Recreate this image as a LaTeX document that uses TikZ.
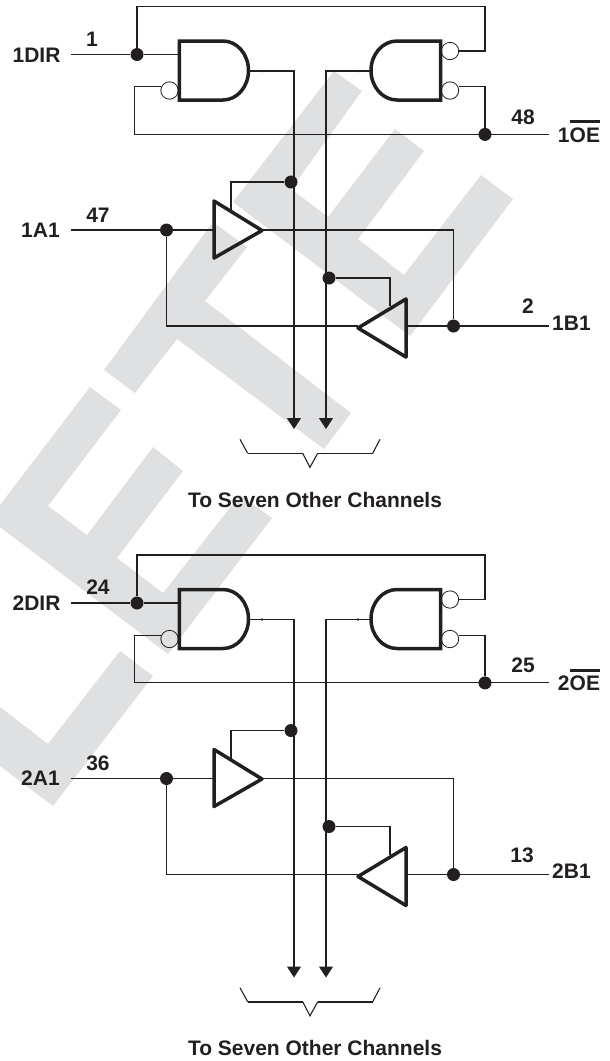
\documentclass[tikz,border=0pt]{standalone}
\usepackage{fontspec}
\setmainfont{Liberation Sans}
\usetikzlibrary{arrows.meta}
\definecolor{wmark}{HTML}{DFE0E2}
\definecolor{ink}{HTML}{231F20}
\newcommand{\barred}[1]{\setbox0=\hbox{#1}\rlap{\rule[19pt]{\wd0}{3pt}}\box0}
\tikzset{
wire/.style={line width=1.1pt,draw=ink},
gate/.style={line width=3.5pt,draw=ink},
dot/.style={circle,fill=ink,inner sep=0pt,minimum size=13pt},
bubble/.style={circle,draw=ink,line width=0.8pt,inner sep=0pt,minimum size=17.4pt},
pin/.style={anchor=base,text=ink,inner sep=0pt,font=\bfseries\fontsize{21}{21}\selectfont}
}
\begin{document}
\begin{tikzpicture}[x=1pt,y=-1pt,>={Triangle[length=11pt,width=14pt]},line join=miter]
\useasboundingbox (0,0) rectangle (610,1061);
% watermark letters
\fill[wmark] (334,71)--(362,91)--(291,189)--(328,217)--(395,129)--(424,151)--(358,239)--(404,275)--(481,175)--(513,199)--(410,336)--(233,202)--cycle;
\fill[wmark] (213,222)--(247,247)--(205,301)--(351,413)--(324,449)--(177,339)--(135,393)--(104,370)--cycle;
\fill[wmark] (90,387)--(121,410)--(48,506)--(87,535)--(153,447)--(183,471)--(117,558)--(163,593)--(240,495)--(272,518)--(168,654)--(0,527)--(0,505)--cycle;
\fill[wmark] (120,651)--(153,676)--(53,806)--(0,766)--(0,707)--(48,744)--cycle;
%
\foreach \off/\nch/\pdir/\xdir/\pa/\poe/\pb/\xb in {0/1/1/92/47/48/2/528,548.5/2/24/98/36/25/13/522}{
\begin{scope}[shift={(0,\off)}]
\path
(71,54.5) coordinate (dirin)
(179,54.5) coordinate (gain)
(137,6.5) coordinate (topl)
(485,51) coordinate (topr)
(459,51) coordinate (bbout)
(161,86.7) coordinate (bain)
(134.3,134.4) coordinate (oel)
(549,134.4) coordinate (oeout)
(459,86.7) coordinate (bcout)
(248.5,71) coordinate (gaout)
(371,71) coordinate (gbout)
(262,71) coordinate (ticka)
(358,71) coordinate (tickb)
(294,429) coordinate (arra)
(326,429) coordinate (arrb)
(71,230) coordinate (ain)
(214,230) coordinate (buain)
(262,230) coordinate (buaout)
(231,211) coordinate (buaen)
(549,326) coordinate (bout)
(406,326) coordinate (bubin)
(358,326) coordinate (bubout)
(390,306) coordinate (buben)
(240,439.3) coordinate (bra)
(247.7,453.3) coordinate (brb)
(302.7,453.3) coordinate (brc)
(310,467.3) coordinate (brd)
(317.7,453.3) coordinate (bre)
(372.7,453.3) coordinate (brf)
(380,439.3) coordinate (brg)
;
\node[dot] (jdir) at (137,54.5) {};
\node[dot] (joe) at (485,134.4) {};
\node[dot] (ja) at (166.5,230) {};
\node[dot] (jb) at (453.5,326) {};
\node[dot] (jena) at (291,182) {};
\node[dot] (jenb) at (329,278) {};
\node[bubble] (bba) at (169.5,90.5) {};
\node[bubble] (bbb) at (450,51) {};
\node[bubble] (bbc) at (450,90.5) {};
% gates
\draw[gate] (179.3,41)--(223,41) arc (-90:90:25.5 and 29.5)--(179.3,100)--cycle;
\draw[gate] (440.7,41)--(397,41) arc (-90:-270:26 and 29.5)--(440.7,100)--cycle;
\draw[gate,line join=round] (214,201)--(262,230.5)--(214,258)--cycle;
\draw[gate,line join=round] (406,299)--(358,328)--(406,357)--cycle;
% wires
\draw[wire] (dirin)--(jdir)--(gain);
\draw[wire] (jdir)--(topl)-|(topr)--(bbout);
\draw[wire] (bain)-|(oel)--(oeout);
\draw[wire] (bcout)-|(joe);
\draw[wire,->] (gaout)-|(arra);
\draw[wire,->] (gbout)-|(arrb);
\draw[wire] (jena)-|(buaen);
\draw[wire] (jenb)-|(buben);
\draw[wire] (ain)--(ja)--(buain);
\draw[wire] (buaout)-|(jb);
\draw[wire] (jb)--(bubin);
\draw[wire] (jb)--(bout);
\draw[wire] (ja)|-(bubout);
\foreach \x in {ticka,tickb}
\fill[ink] (\x) circle (1.3pt);
\draw[wire] (bra)--(brb);
\draw[wire,line width=1.6pt] (brb)--(brc);
\draw[wire] (brc)--(brd)--(bre);
\draw[wire,line width=1.6pt] (bre)--(brf);
\draw[wire] (brf)--(brg);
% labels
\node[pin] (ndir) at (36.5,62) {\nch DIR};
\node[pin] (ndirp) at (\xdir,46) {\pdir};
\node[pin] (na) at (40.5,237) {\nch A1};
\node[pin] (nap) at (98,222) {\pa};
\node[pin] (noe) at (579,142) {\nch\barred{OE}};
\node[pin] (noep) at (523,124) {\poe};
\node[pin] (nb) at (571.5,330) {\nch B1};
\node[pin] (nbp) at (\xb,313.5) {\pb};
\node[pin] (nto) at (315,507) {To Seven Other Channels};
\end{scope}
}
\end{tikzpicture}
\end{document}
